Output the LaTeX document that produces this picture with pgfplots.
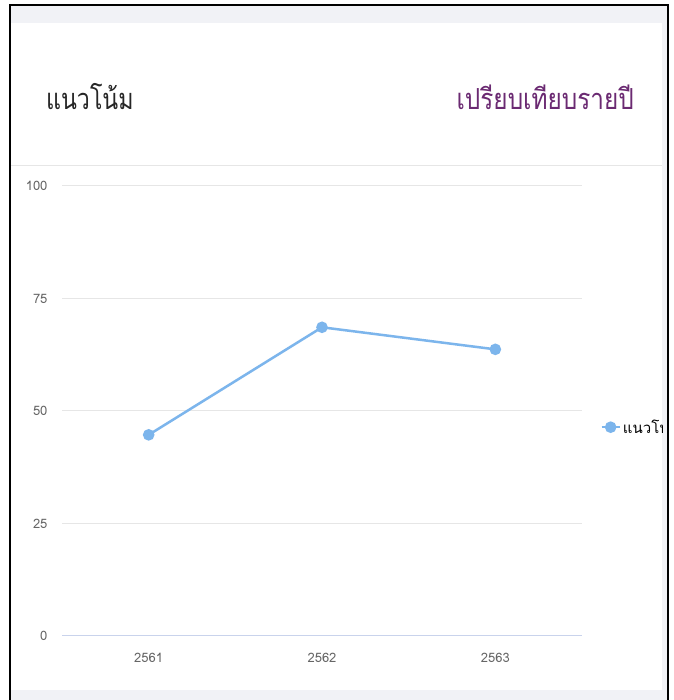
\documentclass[border=0pt]{standalone}
\usepackage{fontspec}
\setmainfont{Loma}[Script=Thai]
\usepackage{pgfplots}
\pgfplotsset{compat=1.18}
\definecolor{seriesblue}{HTML}{7CB5EC}
\definecolor{titlepurple}{HTML}{6B2A72}
\definecolor{bandgray}{HTML}{F1F2F6}
\definecolor{gridgray}{HTML}{E6E6E6}
\definecolor{axisblue}{HTML}{C9D3EC}
\definecolor{ticktext}{HTML}{666666}
\begin{document}
\begin{tikzpicture}[x=1pt,y=1pt]
% page background and frame of the screenshot
\fill[white] (0,0) rectangle (673,700);
\fill[bandgray] (10,695) rectangle (668,677);
\fill[bandgray] (10,0) rectangle (668,10);
\fill[bandgray] (662,10) rectangle (668,677);
\draw[gridgray, line width=1pt] (10,534) -- (662,534);
\node[anchor=west, inner sep=0, xscale=0.8, transform shape,
    font=\fontsize{29}{32}\selectfont, text=black!85] at (46,603) {แนวโน้ม};
\node[anchor=east, inner sep=0, xscale=0.84, transform shape,
    font=\fontsize{29}{32}\selectfont, text=titlepurple] at (634,603) {เปรียบเทียบรายปี};

\begin{scope}
\clip (11,11) rectangle (662,676);
\begin{axis}[
    at={(62pt,64pt)}, anchor=south west,
    scale only axis, width=520pt, height=450pt,
    xmin=-0.5, xmax=2.5, ymin=0, ymax=100,
    xtick={0,1,2}, xticklabels={2561,2562,2563},
    ytick={0,25,50,75,100},
    axis x line*=bottom, axis y line*=left,
    x axis line style={draw=axisblue, line width=1pt, -},
    y axis line style={draw=none},
    major tick length=0pt,
    ymajorgrids, grid style={gridgray, line width=1pt},
    tick label style={font=\fontsize{13}{15}\selectfont, text=ticktext},
    /pgf/number format/assume math mode=true,
    /pgf/number format/1000 sep={},
    xticklabel style={yshift=-14pt},
    yticklabel style={xshift=-11pt},
    clip=false,
    legend style={at={(axis description cs:1.035,0.464)}, anchor=west,
        draw=none, fill=none, inner sep=0pt,
        font=\fontsize{15}{17}\selectfont},
    legend image code/.code={\draw[#1, mark repeat=2, mark phase=2]
        plot coordinates {(0pt,0pt)(9pt,0pt)(18pt,0pt)};},
]
\addplot[seriesblue, line width=2.5pt, mark=*, mark size=4.5pt,
    mark options={fill=seriesblue, draw=none}]
    coordinates {(0,44.7) (1,68.6) (2,63.7)};
\addlegendentry{แนวโน้ม}
\end{axis}
\end{scope}

\draw[black, line width=2pt] (10,0) -- (10,695) -- (668,695) -- (668,0);
\pgfresetboundingbox
\useasboundingbox (0,0) rectangle (673,700);
\end{tikzpicture}
\end{document}
